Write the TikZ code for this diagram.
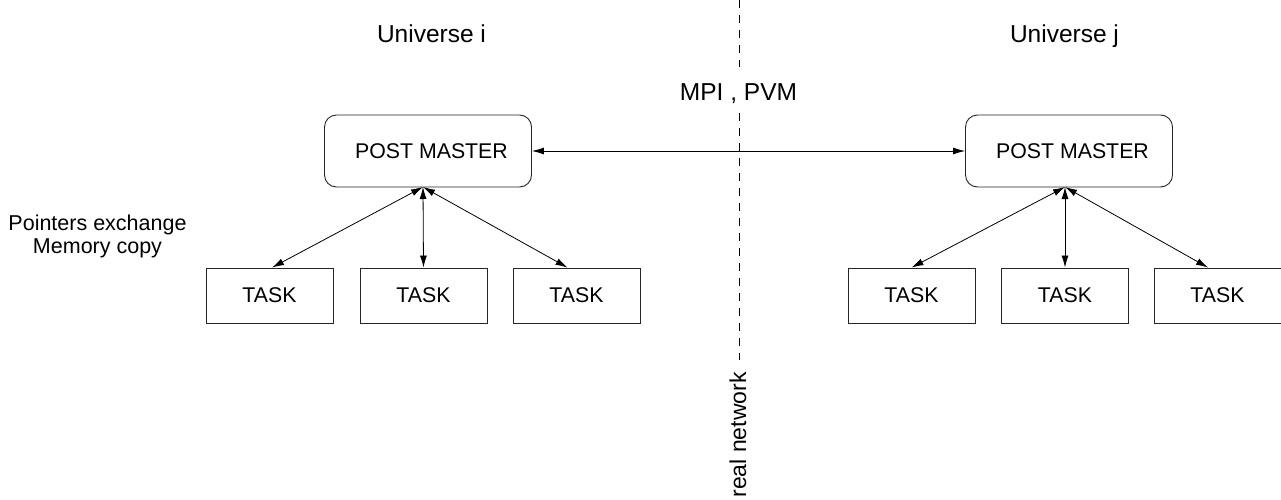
\documentclass[tikz,border=0pt]{standalone}
\usepackage{fontspec}
\setmainfont{Liberation Sans}
\usetikzlibrary{arrows.meta}
\begin{document}
\begin{tikzpicture}[x=1pt,y=-1pt,
  biglbl/.style={font=\fontsize{24.5}{29}\selectfont, inner sep=0pt},
  lbl/.style={font=\fontsize{21.5}{22.5}\selectfont, inner sep=0pt},
  pm/.style={draw=black!85, line width=0.9pt, rounded corners=12pt, minimum width=207pt, minimum height=72pt, font=\fontsize{21.3}{25}\selectfont},
  taskbox/.style={draw=black!85, line width=0.9pt, minimum width=127pt, minimum height=55pt, font=\fontsize{21.3}{25}\selectfont},
  link/.style={line width=0.8pt, {Latex[length=12pt,width=7pt]}-{Latex[length=12pt,width=7pt]}},
  net/.style={line width=0.8pt, dash pattern=on 8pt off 7pt}]
\useasboundingbox (0,0) rectangle (1281,500);
% labels
\node[biglbl, anchor=base] (ui) at (431.5,43) {Universe i};
\node[biglbl, anchor=base] (uj) at (1064.5,43) {Universe j};
\node[biglbl, anchor=base] (mpi) at (738.5,101) {MPI , PVM};
\node[lbl, align=center, anchor=north] (ptr) at (97.5,215) {Pointers exchange\\Memory copy};
\node[font=\fontsize{23}{27}\selectfont, inner sep=0pt, rotate=90] (rn) at (738,435) {real network};
% network line
\coordinate (n0) at (739,0);
\coordinate (n1) at (739,67);
\coordinate (n2) at (739,113);
\coordinate (n3) at (739,360);
\draw[net] (n0) -- (n1);
\draw[net] (n2) -- (n3);
% post masters
\node[pm] (pmL) at (428,151) {\hspace{7pt}POST MASTER};
\node[pm] (pmR) at (1069,151) {\hspace{7pt}POST MASTER};
% tasks
\node[taskbox] (tL1) at (269.5,295.5) {TASK};
\node[taskbox] (tL2) at (423.5,295.5) {TASK};
\node[taskbox] (tL3) at (576.5,295.5) {TASK};
\node[taskbox] (tR1) at (911.5,295.5) {TASK};
\node[taskbox] (tR2) at (1065,295.5) {TASK};
\node[taskbox] (tR3) at (1217.5,295.5) {TASK};
% apexes
\coordinate (aL) at (423,187);
\coordinate (aR) at (1065,187);
% connectors
\draw[link] (pmL.east) -- (pmR.west);
\draw[link] (aL) -- ([xshift=2.5pt]tL1.north);
\draw[link] (aL) -- (tL2.north);
\draw[link] (aL) -- ([xshift=-9pt]tL3.north);
\draw[link] (aR) -- (tR1.north);
\draw[link] (aR) -- (tR2.north);
\draw[link] (aR) -- ([xshift=-9.5pt]tR3.north);
\end{tikzpicture}
\end{document}
